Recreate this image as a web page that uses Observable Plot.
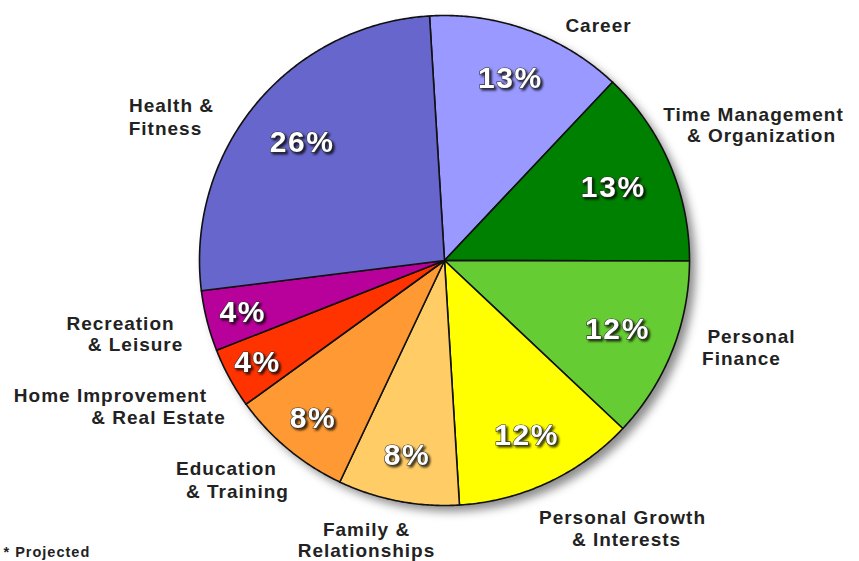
<!DOCTYPE html>
<html>
<head>
<meta charset="utf-8">
<script src="https://cdn.jsdelivr.net/npm/d3@7"></script>
<script src="https://cdn.jsdelivr.net/npm/@observablehq/plot@0.6"></script>
<style>
  html, body { margin: 0; padding: 0; background: #fff; }
  #chart svg { display: block; }
</style>
</head>
<body>
<div id="chart"></div>
<script>
// ---- data ----
const categories = [
  "Career", "Time Management & Organization", "Personal Finance",
  "Personal Growth & Interests", "Family & Relationships", "Education & Training",
  "Home Improvement & Real Estate", "Recreation & Leisure", "Health & Fitness"
];
const shares = [13, 13, 12, 12, 8, 8, 4, 4, 26];
const labelLines = [
  ["Career"],
  ["Time Management", "& Organization"],
  ["Personal", "Finance"],
  ["Personal Growth", "& Interests"],
  ["Family &", "Relationships"],
  ["Education", "& Training"],
  ["Home Improvement", "& Real Estate"],
  ["Recreation", "& Leisure"],
  ["Health &", "Fitness"]
];
const footnote = "* Projected";

// ---- styles / layout ----
const colors = ["#9999ff", "#008000", "#66cc33", "#ffff00", "#ffcc66", "#ff9933", "#ff3300", "#b8009a", "#6666cc"];
const cx = 444, cy = 260, R = 245;
const startDeg = -3.5;
const pctRadius = [0.79, 0.75, 0.76, 0.79, 0.81, 0.84, 0.87, 0.85, 0.755];
const labelPos = [
  [[598, 25]],
  [[753, 114], [761, 135]],
  [[751, 336], [741, 358]],
  [[622, 517], [626, 539]],
  [[366, 529], [366, 550]],
  [[226, 468], [237, 491]],
  [[110, 395], [158, 417]],
  [[120, 323], [135, 344]],
  [[171, 105], [165, 128]]
];
const ux = px => (px - cx) / R;
const uy = py => (cy - py) / R;

// ---- build slices ----
const total = d3.sum(shares);
const slices = [];
const pcts = [];
let a = startDeg;
categories.forEach((c, i) => {
  const a0 = a, a1 = a + shares[i] / total * 360;
  a = a1;
  slices.push({category: c, x: 0, y: 0});
  const n = Math.max(2, Math.ceil((a1 - a0) / 0.5));
  for (let k = 0; k <= n; k++) {
    const t = (a0 + (a1 - a0) * k / n) * Math.PI / 180;
    slices.push({category: c, x: Math.sin(t), y: Math.cos(t)});
  }
  slices.push({category: c, x: 0, y: 0});
  const m = (a0 + a1) / 2 * Math.PI / 180;
  pcts.push({category: c, text: shares[i] + "%", x: pctRadius[i] * Math.sin(m), y: pctRadius[i] * Math.cos(m)});
});
const lines = [];
labelLines.forEach((ls, i) => ls.forEach((t, j) => lines.push({text: t, x: ux(labelPos[i][j][0]), y: uy(labelPos[i][j][1])})));

const font = "'Liberation Sans', Arial, Helvetica, sans-serif";

const plot = Plot.plot({
  width: 859,
  height: 561,
  margin: 0,
  style: {background: "#fff", fontFamily: font},
  x: {domain: [-1, 1], range: [cx - R, cx + R], axis: null},
  y: {domain: [-1, 1], range: [cy + R, cy - R], axis: null},
  color: {domain: categories, range: colors},
  marks: [
    Plot.dot([{x: 0, y: 0}], {x: "x", y: "y", r: R, fill: "#000", fillOpacity: 0.45, dx: 6, dy: 6}),
    Plot.line(slices, {x: "x", y: "y", z: "category", fill: "category", stroke: "#111", strokeWidth: 1.6, strokeLinejoin: "round"}),
    Plot.text(pcts, {x: "x", y: "y", text: "text", fill: "#fff", stroke: "#333", strokeWidth: 1.2, paintOrder: "stroke", fontSize: 30, fontWeight: "bold", fontFamily: font}),
    Plot.text(lines, {x: "x", y: "y", text: "text", fill: "#222", fontSize: 19, fontWeight: "bold", fontFamily: font}),
    Plot.text([footnote], {x: ux(3), y: uy(552), text: d => d, textAnchor: "start", fill: "#222", fontSize: 14.5, fontWeight: "bold", fontFamily: font})
  ]
});

// post styling: shadow blur, text drop shadow and letter spacing
const dotG = plot.querySelector('g[aria-label="dot"]');
if (dotG) dotG.style.filter = "blur(5px)";
const textGs = plot.querySelectorAll('g[aria-label="text"]');
const spacing = ["1.6px", "1px", "1px"];
textGs.forEach((g, i) => { g.style.letterSpacing = spacing[i] || "1px"; });
if (textGs[0]) textGs[0].style.filter = "drop-shadow(2px 2px 1px rgba(0,0,0,0.75))";

document.getElementById("chart").appendChild(plot);
</script>
</body>
</html>
